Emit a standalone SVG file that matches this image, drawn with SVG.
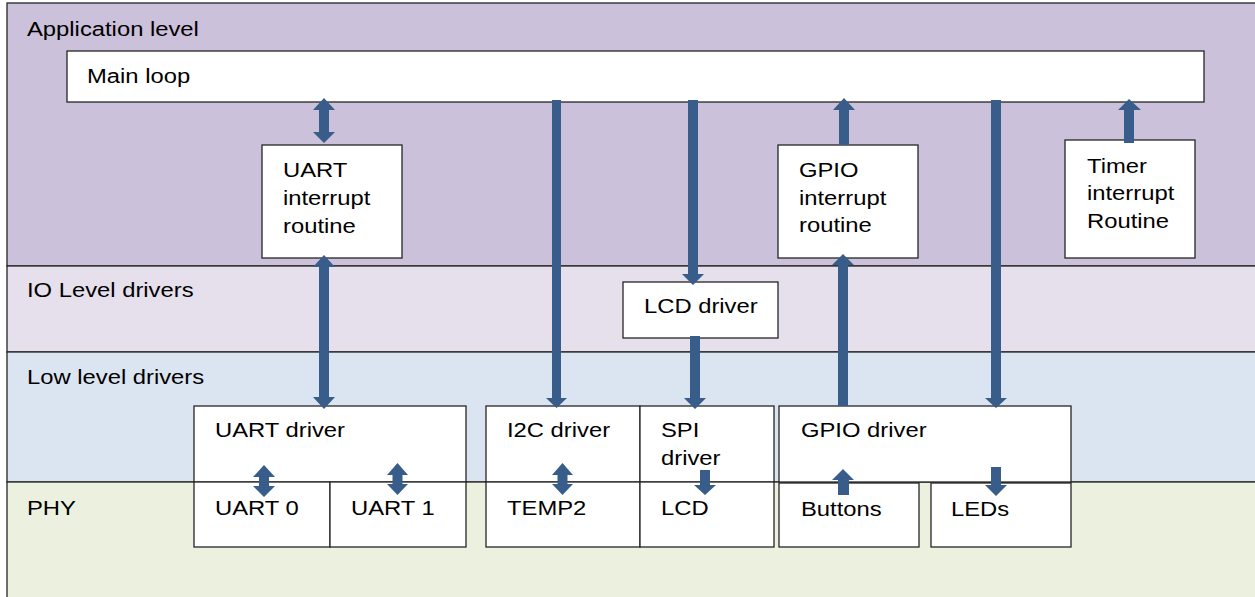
<svg xmlns="http://www.w3.org/2000/svg" width="1255" height="597" viewBox="0 0 1255 597">
<style>
.band{stroke:#262626;stroke-width:1.3}
.box{fill:#ffffff;stroke:#262626;stroke-width:1.3}
.t{font-family:"Liberation Sans",Arial,sans-serif;font-size:20px;fill:#000}
.arr{fill:#385D8A;stroke:none}
</style>
<rect width="1255" height="597" fill="#ffffff"/>
<g id="layer-app"><rect class="band" x="7" y="3" width="1260" height="263" fill="#CCC1DA"/><text class="t" transform="translate(27,36) scale(1.19,1)">Application level</text></g>
<g id="layer-io"><rect class="band" x="7" y="266" width="1260" height="86" fill="#E5E0EC"/><text class="t" transform="translate(27,297) scale(1.19,1)">IO Level drivers</text></g>
<g id="layer-low"><rect class="band" x="7" y="352" width="1260" height="130" fill="#DBE5F1"/><text class="t" transform="translate(27,384) scale(1.19,1)">Low level drivers</text></g>
<g id="layer-phy"><rect class="band" x="7" y="482" width="1260" height="130" fill="#EBF1DE"/><text class="t" transform="translate(27,515) scale(1.19,1)">PHY</text></g>

<g id="main-loop"><rect class="box" x="67" y="51" width="1137" height="51"/><text class="t" transform="translate(87,83) scale(1.19,1)">Main loop</text></g>
<g id="uart-isr"><rect class="box" x="262" y="145" width="140" height="113"/><text class="t" transform="translate(283,177) scale(1.19,1)">UART</text><text class="t" transform="translate(283,205) scale(1.19,1)">interrupt</text><text class="t" transform="translate(283,233) scale(1.19,1)">routine</text></g>
<g id="gpio-isr"><rect class="box" x="778" y="145" width="140" height="113"/><text class="t" transform="translate(799,177) scale(1.19,1)">GPIO</text><text class="t" transform="translate(799,205) scale(1.19,1)">interrupt</text><text class="t" transform="translate(799,232) scale(1.19,1)">routine</text></g>
<g id="timer-isr"><rect class="box" x="1065" y="140" width="130" height="118"/><text class="t" transform="translate(1087,173) scale(1.19,1)">Timer</text><text class="t" transform="translate(1087,200) scale(1.19,1)">interrupt</text><text class="t" transform="translate(1087,228) scale(1.19,1)">Routine</text></g>
<g id="lcd-driver"><rect class="box" x="623" y="282" width="155" height="56"/><text class="t" transform="translate(644,313) scale(1.19,1)">LCD driver</text></g>
<g id="uart-driver"><rect class="box" x="194" y="406" width="272" height="76"/><text class="t" transform="translate(215,437) scale(1.19,1)">UART driver</text></g>
<g id="i2c-driver"><rect class="box" x="486" y="406" width="154" height="76"/><text class="t" transform="translate(507,437) scale(1.19,1)">I2C driver</text></g>
<g id="spi-driver"><rect class="box" x="640" y="406" width="134" height="76"/><text class="t" transform="translate(661,437) scale(1.19,1)">SPI</text><text class="t" transform="translate(661,465) scale(1.19,1)">driver</text></g>
<g id="gpio-driver"><rect class="box" x="779" y="406" width="292" height="76"/><text class="t" transform="translate(801,437) scale(1.19,1)">GPIO driver</text></g>
<g id="uart0"><rect class="box" x="194" y="482" width="136" height="65"/><text class="t" transform="translate(215,515) scale(1.19,1)">UART 0</text></g>
<g id="uart1"><rect class="box" x="330" y="482" width="136" height="65"/><text class="t" transform="translate(351,515) scale(1.19,1)">UART 1</text></g>
<g id="temp2"><rect class="box" x="486" y="482" width="154" height="65"/><text class="t" transform="translate(507,515) scale(1.19,1)">TEMP2</text></g>
<g id="lcd"><rect class="box" x="640" y="482" width="134" height="65"/><text class="t" transform="translate(661,515) scale(1.19,1)">LCD</text></g>
<g id="buttons"><rect class="box" x="779" y="483" width="140" height="64"/><text class="t" transform="translate(801,516) scale(1.19,1)">Buttons</text></g>
<g id="leds"><rect class="box" x="931" y="483" width="140" height="64"/><text class="t" transform="translate(951,516) scale(1.19,1)">LEDs</text></g>

<g id="connectors">
<path class="arr" d="M324,98 L335,110 L329,110 L329,132 L335,132 L324,143 L313,132 L319,132 L319,110 L313,110 Z"/>
<path class="arr" d="M324,255 L335,267 L329,267 L329,397 L335,397 L324,409 L313,397 L319,397 L319,267 L313,267 Z"/>
<path class="arr" d="M552,100 L561,100 L561,398 L567,398 L556.5,408 L546,398 L552,398 Z"/>
<path class="arr" d="M688,100 L698,100 L698,274 L704,274 L693,285 L682,274 L688,274 Z"/>
<path class="arr" d="M690,336 L700,336 L700,398 L706,398 L695,409 L684,398 L690,398 Z"/>
<path class="arr" d="M839,145 L849,145 L849,110 L855,110 L844,98 L833,110 L839,110 Z"/>
<path class="arr" d="M838,406 L848,406 L848,265 L854,265 L843,254 L832,265 L838,265 Z"/>
<path class="arr" d="M991,100 L1001,100 L1001,398 L1007,398 L996,408 L985,398 L991,398 Z"/>
<path class="arr" d="M1124,143 L1134,143 L1134,110 L1141,110 L1129,99 L1118,110 L1124,110 Z"/>
<path class="arr" d="M264,465 L275,477 L269,477 L269,486 L275,486 L264,497 L253,486 L259,486 L259,477 L253,477 Z"/>
<path class="arr" d="M397.5,463 L408,475 L402.5,475 L402.5,484 L408,484 L397.5,495 L387,484 L392.5,484 L392.5,475 L387,475 Z"/>
<path class="arr" d="M562.5,463 L573,475 L567.5,475 L567.5,484 L573,484 L562.5,495 L552,484 L557.5,484 L557.5,475 L552,475 Z"/>
<path class="arr" d="M700,470 L710,470 L710,485 L716,485 L705,495 L694,485 L700,485 Z"/>
<path class="arr" d="M838,495 L849,495 L849,480 L854,480 L843,469 L832,480 L838,480 Z"/>
<path class="arr" d="M991,467 L1001,467 L1001,485 L1007,485 L996,496 L985,485 L991,485 Z"/>
</g>
</svg>
